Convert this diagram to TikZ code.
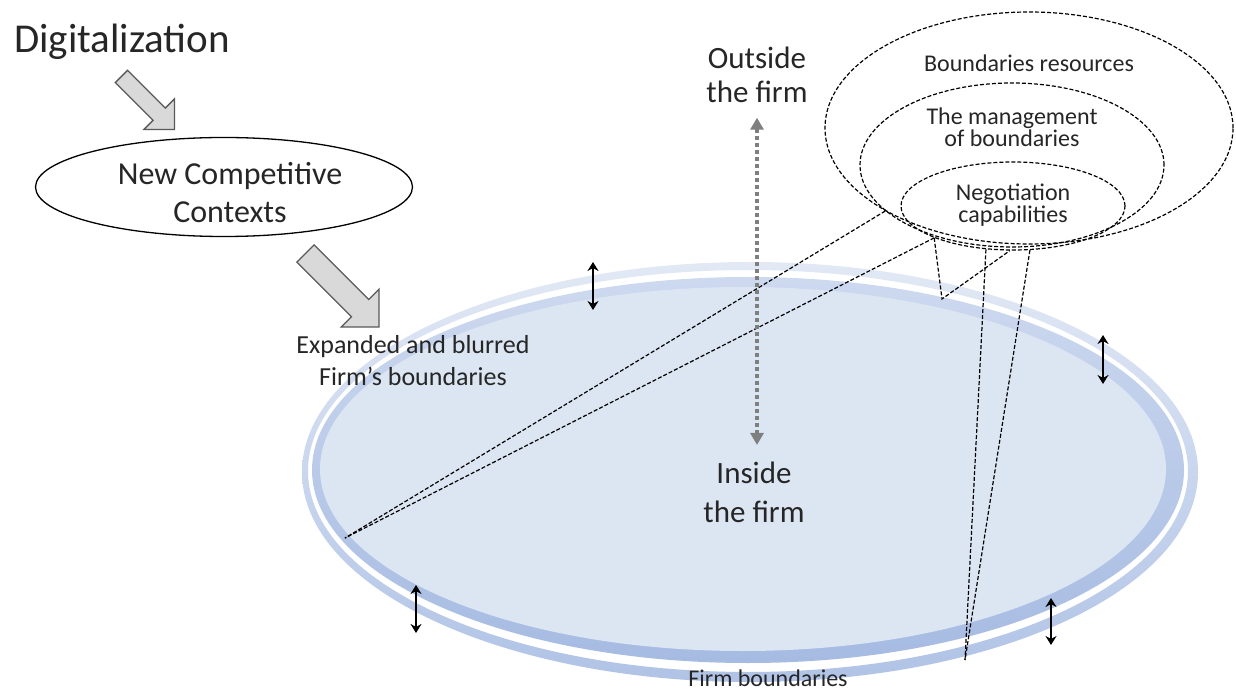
\documentclass[tikz,border=0pt]{standalone}
\usepackage{fontspec}
\setmainfont{Carlito}
\usetikzlibrary{arrows.meta,shapes.geometric,shapes.arrows}

\definecolor{bandouttop}{HTML}{E2E9F5}
\definecolor{bandoutbot}{HTML}{B0C3E6}
\definecolor{bandintop}{HTML}{CDD9EF}
\definecolor{bandinbot}{HTML}{A6BBE2}
\definecolor{firmfill}{HTML}{DCE6F3}
\definecolor{dotgray}{HTML}{7F7F7F}
\newcommand\setfs[2]{\fontsize{#1}{#2}\selectfont}

\begin{document}
\begin{tikzpicture}[x=1pt, y=-1pt, line width=1pt,
		txt/.style={inner sep=0pt, text=black!85, align=center},
		bubble/.style={ellipse, draw, dash pattern=on 4pt off 2pt, line width=1.2pt, inner sep=0pt},
		dline/.style={dash pattern=on 4pt off 2pt, line width=1.2pt},
		blockarrow/.style={single arrow, draw=black!65, fill=black!15, line width=1.3pt, inner xsep=0pt,
			single arrow tip angle=90, shape border rotate=0, rotate=-45, anchor=tail},
		updown/.style={{Stealth[length=9pt,width=11pt]}-{Stealth[length=9pt,width=11pt]}, line width=2.8pt},
		dotarrow/.style={{Triangle[length=12pt,width=13pt]}-{Triangle[length=12pt,width=13pt]},
			draw=dotgray, line width=4.5pt, dash pattern=on 4pt off 3pt}]
	\useasboundingbox[fill=white] (0,0) rectangle (1236,692);
	
	%% confini dell'impresa: anello esterno, anello interno, area interna
	\shade[top color=bandouttop, bottom color=bandoutbot, even odd rule]
		(750,472) ellipse [x radius=448pt, y radius=210pt]
		(748,471) ellipse [x radius=440pt, y radius=201pt];
	\shade[top color=bandintop, bottom color=bandinbot] (748,470) ellipse [x radius=436pt, y radius=193pt];
	\fill[firmfill] (743,469) ellipse [x radius=423pt, y radius=182pt];
	
	%% testi a sinistra (ancora base = ultima riga)
	\node[txt, anchor=base, font=\setfs{41}{48}] (dig) at (122,53) {Digitalization};
	\node[ellipse, draw, line width=1.3pt, fill=white, minimum width=377pt, minimum height=99pt,
		inner sep=0pt] (ctx) at (224,187) {};
	\node[txt, anchor=base, font=\setfs{32}{38}] (ctxtxt) at (230,223) {New Competitive\\Contexts};
	\node[txt, anchor=base, font=\setfs{26}{32}] (exp) at (413,385) {Expanded and blurred\\Firm’s boundaries};
	\node[blockarrow, inner ysep=8pt, single arrow head extend=13pt, minimum height=75pt] (d2c) at (121,76) {};
	\node[blockarrow, inner ysep=11.5pt, single arrow head extend=14.5pt, minimum height=104pt] (c2f) at (305,253) {};
	
	%% dentro / fuori
	\node[txt, anchor=base, font=\setfs{31}{34}] (out) at (757,103) {Outside\\the firm};
	\node[txt, anchor=base, font=\setfs{31}{39}] (in) at (754,522) {Inside\\the firm};
	\node[txt, anchor=base, font=\setfs{24}{24}] (fb) at (768,686) {Firm boundaries};
	
	%% ellissi tratteggiate in alto a destra
	\node[bubble, minimum width=408pt, minimum height=232pt] (res) at (1029,128) {};
	\node[bubble, minimum width=304pt, minimum height=164pt] (mgmt) at (1012,165) {};
	\node[bubble, minimum width=224pt, minimum height=88pt] (neg) at (1013,206) {};
	\node[txt, anchor=base, font=\setfs{24}{24}] (restxt) at (1029,72) {Boundaries resources};
	\node[txt, anchor=base, font=\setfs{24}{22}] (mgmttxt) at (1012,147) {The management\\of boundaries};
	\node[txt, anchor=base, font=\setfs{24}{22}] (negtxt) at (1013,223) {Negotiation\\capabilities};
	
	%% linee di proiezione verso il bordo
	\coordinate (tipL) at (345,538);
	\coordinate (tipV) at (942,299);
	\coordinate (tipB) at (965,660);
	\draw[dline] (res.210) -- (tipL);
	\draw[dline] (neg.202) -- (tipL);
	\draw[dline] (neg.202) -- (tipV) -- (neg.266);
	\draw[dline] (neg.238) -- (tipB);
	\draw[dline] (neg.291) -- (tipB);
	
	%% freccia grigia e frecce doppie
	\draw[dotarrow] ([yshift=-14pt]out.south) -- ([yshift=16pt]out.south |- in.north);
	\foreach \x/\ya/\yb in {593/262/310, 1103/335/384, 416/585/633, 1051/598/645}
		\draw[updown] (\x,\ya) -- (\x,\yb);
\end{tikzpicture}
\end{document}
